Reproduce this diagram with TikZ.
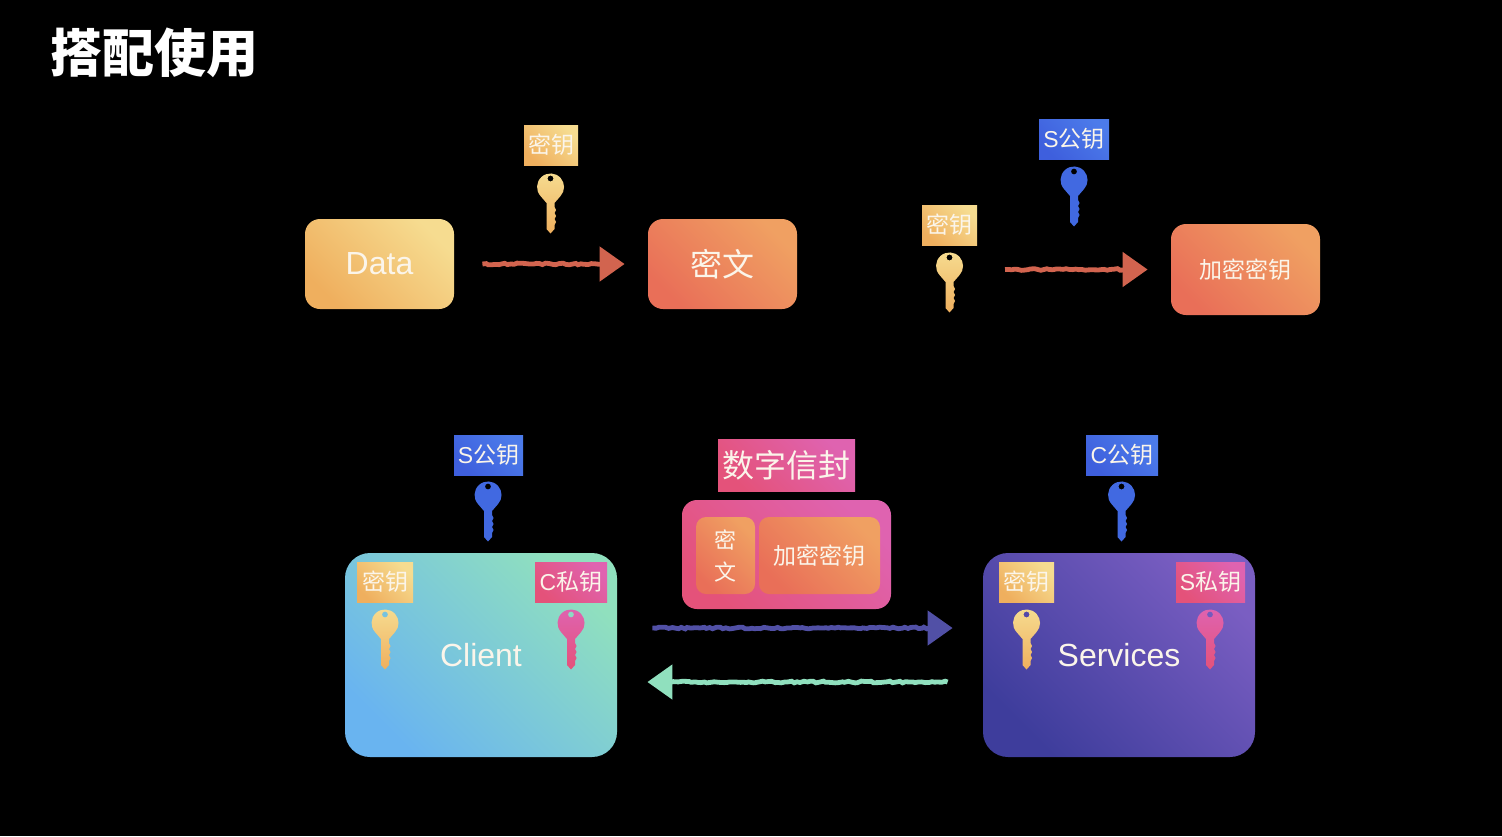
\documentclass[tikz,border=0pt]{standalone}
\usepackage{fontspec}
\setmainfont{Liberation Sans}
\newfontfamily\cjk{Noto Sans CJK SC}
\usetikzlibrary{arrows.meta,decorations.pathmorphing}

\definecolor{yellowlow}{HTML}{EFAF5E}
\definecolor{yellowhigh}{HTML}{F6DC90}
\definecolor{orangelow}{HTML}{E96F58}
\definecolor{orangehigh}{HTML}{F0A062}
\definecolor{bluelow}{HTML}{3E5FDD}
\definecolor{bluehigh}{HTML}{4C7BEA}
\definecolor{bluekey}{HTML}{4169E1}
\definecolor{pinklow}{HTML}{E4527A}
\definecolor{pinkhigh}{HTML}{DF63B0}
\definecolor{tealhigh}{HTML}{90E0BE}
\definecolor{skylow}{HTML}{69B4F0}
\definecolor{violetlow}{HTML}{3E3D9C}
\definecolor{violethigh}{HTML}{7A5EC2}
\definecolor{softwhite}{HTML}{FBF5EA}

\tikzset{
    tone/.style 2 args={bottom color=#1, top color=#2, shading angle=-45},
    box/.style n args={4}{tone={#3}{#4}, rounded corners=#2pt, minimum width=74.5pt, inner sep=0pt,
        minimum height=#1pt, text=softwhite, font=\cjk\fontsize{16}{18}\selectfont},
    tag/.style 2 args={tone={#1}{#2}, inner sep=0pt, minimum height=20pt, text=softwhite,
        font=\cjk\fontsize{11.5}{13}\selectfont},
    flow/.style={draw=#1, line width=2.4pt, decorate,
        decoration={random steps, segment length=1.6pt, amplitude=0.45pt, post=lineto, post length=9pt},
        -{Triangle[length=12.5pt,width=17pt,fill=#1]}},
    pics/keyicon/.style 2 args={code={
        \shade[x=0.5pt, y=0.5pt, even odd rule, top color=#1, bottom color=#2]
            (-10,-9) arc[start angle=222, end angle=-42, radius=13.5]
            -- (4,-16) -- (4,-20) -- (5.5,-23) -- (4,-26) -- (5.5,-29) -- (4,-32) -- (5.5,-35) -- (4,-38)
            -- (4,-42) -- (0,-46.5) -- (-4,-42) -- (-4,-16) -- cycle
            (0,8.5) circle[radius=3];
    }}
}

\begin{document}
\begin{tikzpicture}[x=0.5pt, y=-0.5pt]
    \fill[black] (0,0) rectangle (1502,836);
    \useasboundingbox (0,0) rectangle (1502,836);

    \node[text=white, anchor=west, inner sep=0pt, font=\cjk\bfseries\fontsize{26}{28}\selectfont] (title) at (50,53) {搭配使用};

    % top row
    \node[box={45}{7.5}{yellowlow}{yellowhigh}] (data) at (379.5,264) {\rmfamily Data};
    \node[box={45}{7.5}{orangelow}{orangehigh}] (cipher) at (722.5,264) {密文};
    \node[box={45.5}{7.5}{orangelow}{orangehigh}, font=\cjk\fontsize{11.5}{13}\selectfont] (wrapped) at (1245.5,269.5) {加密密钥};
    \draw[flow={orangelow!90!black}] ([xshift=14pt]data.east) -- ([xshift=-11.5pt]cipher.west);
    \coordinate (wrapstart) at (1005,269.5);
    \draw[flow={orangelow!90!black}] (wrapstart) -- ([xshift=-11.5pt]wrapped.west);

    \node[tag={yellowlow}{yellowhigh}, minimum width=27pt] (keytag) at (551,145) {密钥};
    \pic at (550.5,187) {keyicon={yellowhigh}{yellowlow}};
    \node[tag={bluelow}{bluehigh}, minimum width=35pt] (pubtag) at (1074,139) {{\rmfamily S}公钥};
    \pic at (1074,180) {keyicon={bluekey}{bluekey}};
    \node[tag={yellowlow}{yellowhigh}, minimum width=27.5pt] (plaintag) at (949.5,225) {密钥};
    \pic at (949.5,266) {keyicon={yellowhigh}{yellowlow}};

    % envelope
    \node[tag={pinklow}{pinkhigh}, minimum width=68.5pt, minimum height=26pt, font=\cjk\fontsize{16}{18}\selectfont] (envtag) at (786.5,465) {数字信封};
    \node[box={54.5}{7.5}{pinklow}{pinkhigh}, minimum width=104.5pt] (envelope) at (786.5,554.5) {};
    \node[box={38.5}{5}{orangelow}{orangehigh}, minimum width=29.5pt, align=center,
        font=\cjk\fontsize{11}{16}\selectfont] (envcipher) at (725.5,555.5) {密\\文};
    \node[box={38.5}{5}{orangelow}{orangehigh}, minimum width=60.5pt,
        font=\cjk\fontsize{11.5}{13}\selectfont] (envkey) at (819.5,555.5) {加密密钥};

    % client and services
    \node[box={102}{12.5}{skylow}{tealhigh}, minimum width=136pt] (client) at (481,655) {\rmfamily Client};
    \node[box={102}{12.5}{violetlow}{violethigh}, minimum width=136pt] (services) at (1119,655) {\rmfamily Services};
    \draw[flow={violetlow!90!white}] ([shift={(17.5pt,13.5pt)}]client.east) -- ([shift={(-15pt,13.5pt)}]services.west);
    \draw[flow={tealhigh}] ([shift={(-17.5pt,-13.5pt)}]services.west) -- ([shift={(15pt,-13.5pt)}]client.east);

    \node[tag={bluelow}{bluehigh}, minimum width=34.5pt] (clientpub) at (488.5,455) {{\rmfamily S}公钥};
    \pic at (488,495) {keyicon={bluekey}{bluekey}};
    \node[tag={yellowlow}{yellowhigh}, minimum width=28pt] (clientkey) at (385,582) {密钥};
    \pic at (385,623) {keyicon={yellowhigh}{yellowlow}};
    \node[tag={pinklow}{pinkhigh}, minimum width=36pt] (clientpriv) at (571,582) {{\rmfamily C}私钥};
    \pic at (571,623) {keyicon={pinkhigh}{pinklow}};

    \node[tag={bluelow}{bluehigh}, minimum width=36pt] (servicespub) at (1122,455) {{\rmfamily C}公钥};
    \pic at (1121.5,495) {keyicon={bluekey}{bluekey}};
    \node[tag={yellowlow}{yellowhigh}, minimum width=27.5pt] (serviceskey) at (1026.5,582) {密钥};
    \pic at (1026.5,623) {keyicon={yellowhigh}{yellowlow}};
    \node[tag={pinklow}{pinkhigh}, minimum width=34.5pt] (servicespriv) at (1210.5,582) {{\rmfamily S}私钥};
    \pic at (1210,623) {keyicon={pinkhigh}{pinklow}};
\end{tikzpicture}
\end{document}
